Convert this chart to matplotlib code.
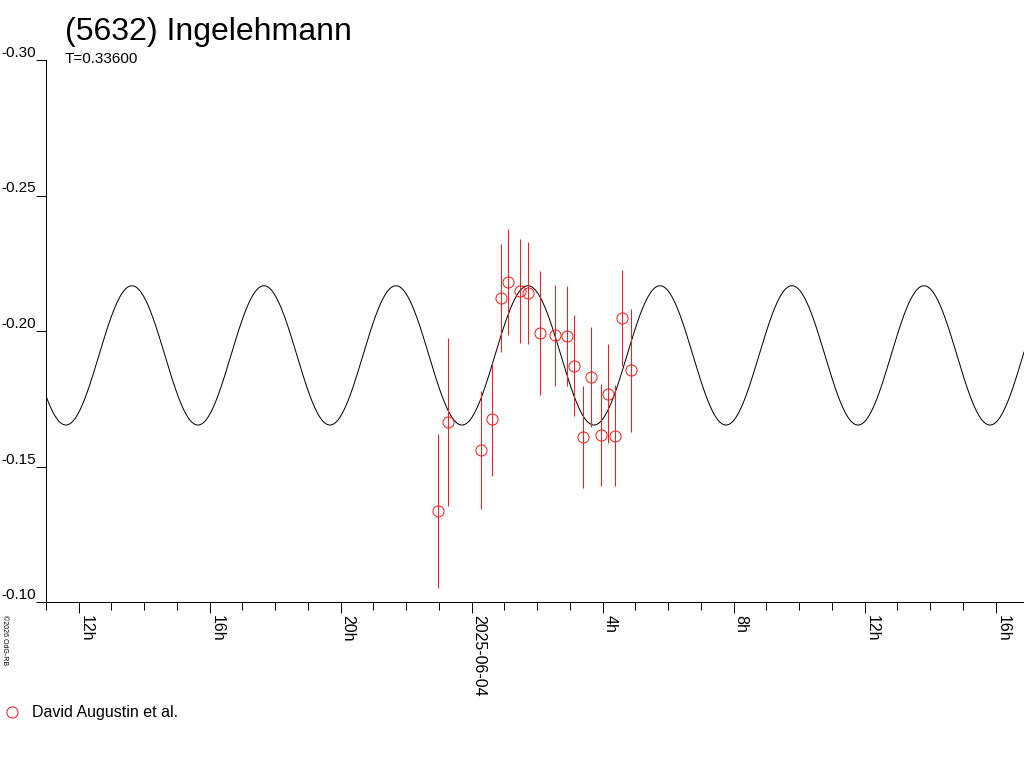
import datetime as dt
import numpy as np
import matplotlib
matplotlib.use("Agg")
import matplotlib.pyplot as plt
import matplotlib.dates as mdates
from matplotlib.ticker import FuncFormatter

# observations: hours since 2025-06-04 00:00, magnitude, error
obs_hours = [-1.03, -0.72, 0.28, 0.62, 0.90, 1.11, 1.48, 1.72, 2.09, 2.55,
             2.90, 3.13, 3.40, 3.65, 3.95, 4.17, 4.38, 4.59, 4.86]
obs_mag = [-0.1336, -0.1664, -0.1561, -0.1674, -0.2123, -0.2181, -0.2148, -0.2141, -0.1992, -0.1984,
           -0.1982, -0.1872, -0.1610, -0.1831, -0.1616, -0.1769, -0.1613, -0.2048, -0.1856]
obs_err = [0.0284, 0.0311, 0.0217, 0.0209, 0.0199, 0.0194, 0.0191, 0.0189, 0.0230, 0.0186,
           0.0184, 0.0186, 0.0188, 0.0184, 0.0188, 0.0183, 0.0186, 0.0177, 0.0227]

# fitted lightcurve (period in days, two maxima per period)
period_days = 0.336
fit_mean = -0.191
fit_amp = 0.0257
fit_peak_hour = 1.72

ref_day = dt.datetime(2025, 6, 4)
x_start_hour = -13.0
x_end_hour = 16.87

title = "(5632) Ingelehmann"
observer = "David Augustin et al."

LW = 0.72  # one pixel at 100 dpi
RED = '#ff1a1a'


def to_time(h):
    return [ref_day + dt.timedelta(hours=float(v)) for v in np.atleast_1d(h)]


def main():
    plt.rcParams['font.family'] = ['Liberation Sans', 'DejaVu Sans']

    fig = plt.figure(figsize=(10.24, 7.68), dpi=100)
    ax = fig.add_axes([46 / 1024, 1 - 602 / 768, 978 / 1024, 542 / 768])

    # model curve
    hh = np.linspace(x_start_hour, x_end_hour, 2000)
    half_period_h = period_days * 24 / 2
    model = fit_mean - fit_amp * np.cos(2 * np.pi * (hh - fit_peak_hour) / half_period_h)
    ax.plot(to_time(hh), model, color='black', lw=LW)

    t_obs = to_time(obs_hours)
    ax.errorbar(t_obs, obs_mag, yerr=obs_err, fmt='none', ecolor=RED, elinewidth=LW)
    pts, = ax.plot(t_obs, obs_mag, 'o', mfc='none', mec=RED, ms=8, mew=LW, label=observer)

    ax.set_xlim(to_time(x_start_hour)[0], to_time(x_end_hour)[0])
    ax.set_ylim(-0.10, -0.30)
    ax.set_yticks([-0.30, -0.25, -0.20, -0.15, -0.10])
    ax.yaxis.set_major_formatter(FuncFormatter(lambda v, p: "%.2f" % v))

    ax.xaxis.set_major_locator(mdates.HourLocator(byhour=range(0, 24, 4)))
    ax.xaxis.set_minor_locator(mdates.HourLocator())

    def fmt_x(v, pos):
        d = mdates.num2date(v)
        if d.hour == 0:
            return d.strftime("%Y-%m-%d")
        return "%dh" % d.hour
    ax.xaxis.set_major_formatter(FuncFormatter(fmt_x))

    for s in ['top', 'right']:
        ax.spines[s].set_visible(False)
    for s in ['left', 'bottom']:
        ax.spines[s].set_linewidth(LW)

    ax.tick_params(axis='y', length=7.2, width=LW, pad=0, labelsize=11)
    ax.tick_params(axis='x', which='major', length=8, width=LW, pad=1.5, labelsize=11.5,
                   labelrotation=270)
    ax.tick_params(axis='x', which='minor', length=5.8, width=LW)
    for lbl in ax.get_yticklabels():
        lbl.set_verticalalignment('bottom')
    for lbl in ax.get_xticklabels():
        lbl.set_horizontalalignment('left')
        lbl.set_verticalalignment('top')

    fig.text(65 / 1024, 1 - 40 / 768, title, fontsize=23, ha='left', va='baseline')
    fig.text(65 / 1024, 1 - 63 / 768, "T=%.5f" % period_days, fontsize=11, ha='left', va='baseline')
    fig.text(1 / 1024, 1 - 615 / 768, "\u00a92026 OdG-RB", fontsize=5, rotation=270,
             ha='left', va='top')

    fig.legend(handles=[pts], loc='center left', bbox_to_anchor=(0.002, 1 - 713 / 768),
               frameon=False, fontsize=11.5, handlelength=0.8, handletextpad=0.9,
               borderaxespad=0, borderpad=0.2)

    fig.savefig("out.png", dpi=100)


if __name__ == "__main__":
    main()
